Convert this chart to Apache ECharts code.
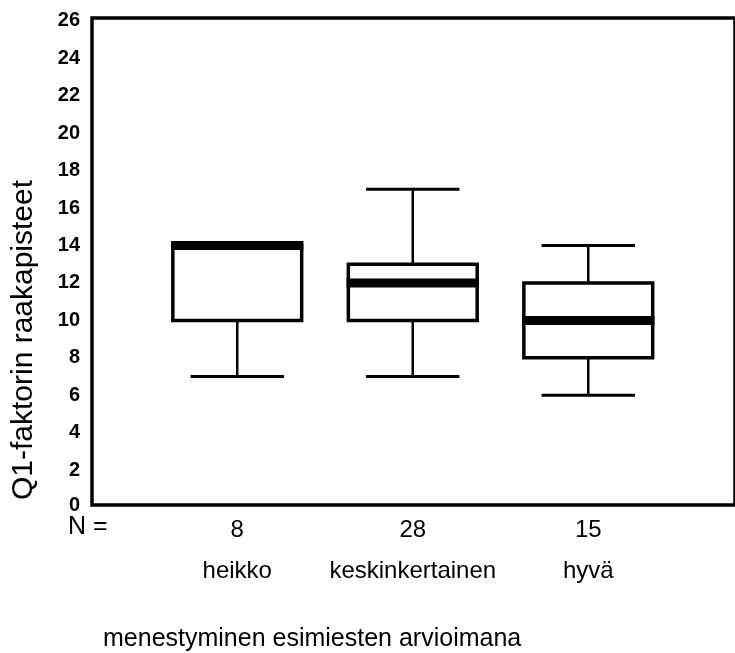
<!DOCTYPE html>
<html>
<head>
<meta charset="utf-8">
<script src="https://cdn.jsdelivr.net/npm/echarts@6/dist/echarts.min.js"></script>
<style>
  html, body { margin: 0; padding: 0; background: #fff; }
  #chart { width: 735px; height: 653px; }
</style>
</head>
<body>
<div id="chart"></div>
<script>
// ---- data ----
const categories = ['heikko', 'keskinkertainen', 'hyvä'];
const nCounts = [8, 28, 15];
const whiskerLow = [7, 7, 6];
const q1 = [10, 10, 8];
const median = [14, 12, 10];
const q3 = [14, 13, 12];
const whiskerHigh = [14, 17, 14];
const yTicks = [0, 2, 4, 6, 8, 10, 12, 14, 16, 18, 20, 22, 24, 26];
const yTitle = 'Q1-faktorin raakapisteet';
const xTitle = 'menestyminen esimiesten arvioimana';
const nLabel = 'N =';

// ---- layout constants ----
const Y_MIN = 0.14, Y_MAX = 26.15;
const X_MIN = 0.1725, X_MAX = 3.836;
const FONT = '"Liberation Sans", Arial, Helvetica, sans-serif';

const boxData = categories.map((c, i) => [i + 1, whiskerLow[i], q1[i], median[i], q3[i], whiskerHigh[i]]);

const chart = echarts.init(document.getElementById('chart'), null, { renderer: 'canvas' });

function renderBox(params, api) {
  const xv = api.value(0);
  const band = api.size([1, 0])[0];
  const halfBox = band * 0.367;
  const halfCap = band * 0.266;
  const halfMed = band * 0.377;
  const pLow = api.coord([xv, api.value(1)]);
  const pQ1 = api.coord([xv, api.value(2)]);
  const pMed = api.coord([xv, api.value(3)]);
  const pQ3 = api.coord([xv, api.value(4)]);
  const pHigh = api.coord([xv, api.value(5)]);
  const cx = pLow[0];
  const line = (x1, y1, x2, y2, w) => ({
    type: 'line',
    shape: { x1, y1, x2, y2 },
    style: { stroke: '#000', lineWidth: w, lineCap: 'butt' }
  });
  return {
    type: 'group',
    children: [
      line(cx, pLow[1], cx, pQ1[1], 2.5),
      line(cx, pQ3[1], cx, pHigh[1], 2.5),
      line(cx - halfCap, pLow[1], cx + halfCap, pLow[1], 3),
      line(cx - halfCap, pHigh[1], cx + halfCap, pHigh[1], 3),
      {
        type: 'rect',
        shape: { x: cx - halfBox, y: pQ3[1], width: halfBox * 2, height: pQ1[1] - pQ3[1] },
        style: { fill: '#fff', stroke: '#000', lineWidth: 3.5 }
      },
      line(cx - halfMed, pMed[1], cx + halfMed, pMed[1], 9)
    ]
  };
}

const option = {
  backgroundColor: '#fff',
  animation: false,
  textStyle: { fontFamily: FONT, color: '#000' },
  grid: {
    left: 92, right: -10, top: 18, bottom: 148,
    show: true, borderColor: '#000', borderWidth: 3.5, backgroundColor: 'transparent'
  },
  xAxis: {
    type: 'value',
    min: X_MIN, max: X_MAX,
    axisLine: { show: false },
    axisTick: { show: false },
    splitLine: { show: false },
    axisLabel: {
      customValues: categories.map((c, i) => i + 1),
      margin: 7,
      formatter: function (v) {
        const i = Math.round(v) - 1;
        return '{n|' + nCounts[i] + '}\n{c|' + categories[i] + '}';
      },
      rich: {
        n: { fontFamily: FONT, fontSize: 24, lineHeight: 36, color: '#000' },
        c: { fontFamily: FONT, fontSize: 24, lineHeight: 46, color: '#000' }
      }
    }
  },
  yAxis: {
    type: 'value',
    min: Y_MIN, max: Y_MAX,
    axisLine: { show: false },
    axisTick: { show: false },
    splitLine: { show: false },
    axisLabel: {
      customValues: yTicks.map(v => Math.max(v, Y_MIN)),
      formatter: function (v) { return String(Math.round(v)); },
      margin: 12,
      padding: [5, 0, 0, 0],
      fontFamily: FONT,
      fontSize: 20,
      fontWeight: 'bold',
      color: '#000'
    }
  },
  graphic: [
    {
      type: 'text',
      x: 24, y: 340,
      rotation: Math.PI / 2,
      style: {
        text: yTitle, fontFamily: FONT, fontSize: 30, fill: '#000',
        textAlign: 'center', textVerticalAlign: 'middle'
      }
    },
    {
      type: 'text',
      left: 68, top: 515,
      style: { text: nLabel, fontFamily: FONT, fontSize: 25, fill: '#000' }
    },
    {
      type: 'text',
      left: 103, top: 627,
      style: { text: xTitle, fontFamily: FONT, fontSize: 25, fill: '#000' }
    }
  ],
  series: [{
    type: 'custom',
    renderItem: renderBox,
    data: boxData,
    encode: { x: 0, y: [1, 2, 3, 4, 5] },
    clip: false
  }]
};

chart.setOption(option);
</script>
</body>
</html>
